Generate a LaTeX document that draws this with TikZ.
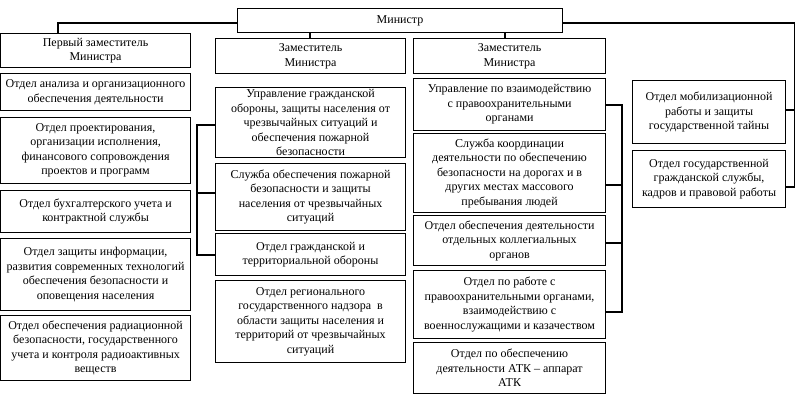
\documentclass[tikz,border=0pt]{standalone}
\usepackage{fontspec}
\setmainfont{Liberation Serif}
\begin{document}
\begin{tikzpicture}[x=1pt,y=-1pt,
 bx/.style={draw,line width=1.1pt,anchor=north west,align=center,inner sep=0pt,font=\fontsize{12}{14.5}\selectfont},
 ln/.style={line width=1.1pt}]
\useasboundingbox (0,0) rectangle (795,402);
\newcommand\bxx[6]{\node[bx,minimum width={#4-#2},minimum height={#5-#3}] (#1) at (#2,#3) {#6};}
\bxx{min}{237}{8}{562}{32}{Министр}
% col1
\bxx{a0}{0}{33}{190}{67}{Первый заместитель\\Министра}
\bxx{a1}{0}{73}{190}{110}{Отдел анализа и организационного\\обеспечения деятельности}
\bxx{a2}{0}{117}{190}{183}{Отдел проектирования,\\организации исполнения,\\финансового сопровождения\\проектов и программ}
\bxx{a3}{0}{190}{190}{232}{Отдел бухгалтерского учета и\\контрактной службы}
\bxx{a4}{0}{238}{190}{310}{Отдел защиты информации,\\развития современных технологий\\обеспечения безопасности и\\оповещения населения}
\bxx{a5}{0}{315}{190}{380}{Отдел обеспечения радиационной\\безопасности, государственного\\учета и контроля радиоактивных\\веществ}
% col2
\bxx{b0}{215}{38}{405}{73}{Заместитель\\Министра}
\bxx{b1}{215}{87}{405}{157}{Управление гражданской\\обороны, защиты населения от\\чрезвычайных ситуаций и\\обеспечения пожарной\\безопасности}
\bxx{b2}{215}{163}{405}{230}{Служба обеспечения пожарной\\безопасности и защиты\\населения от чрезвычайных\\ситуаций}
\bxx{b3}{215}{233}{405}{275}{Отдел гражданской и\\территориальной обороны}
\bxx{b4}{215}{280}{405}{362}{Отдел регионального\\государственного надзора\ \ в\\области защиты населения и\\территорий от чрезвычайных\\ситуаций}
% col3
\bxx{c0}{413}{38}{605}{73}{Заместитель\\Министра}
\bxx{c1}{413}{78}{605}{130}{Управление по взаимодействию\\с правоохранительными\\органами}
\bxx{c2}{413}{133}{605}{212}{Служба координации\\деятельности по обеспечению\\безопасности на дорогах и в\\других местах массового\\пребывания людей}
\bxx{c3}{413}{215}{605}{265}{Отдел обеспечения деятельности\\отдельных коллегиальных\\органов}
\bxx{c4}{413}{270}{605}{338}{Отдел по работе с\\правоохранительными органами,\\взаимодействию с\\военнослужащими и казачеством}
\bxx{c5}{413}{342}{605}{393}{Отдел по обеспечению\\деятельности АТК – аппарат\\АТК}
% col4
\bxx{d1}{632}{80}{785}{143}{Отдел мобилизационной\\работы и защиты\\государственной тайны}
\bxx{d2}{632}{150}{785}{207}{Отдел государственной\\гражданской службы,\\кадров и правовой работы}
% connectors
\coordinate (r0) at (795,23);
\coordinate (r1) at (795,187);
\draw[ln] (min.west |- 0,23) -| (a0.north -| 58,0);
\draw[ln] (min.east |- 0,23) -- (r0) -- (r1);
\draw[ln] (d1.east |- 0,110) -- (795,110);
\draw[ln] (d2.east |- 0,187) -- (r1);
\draw[ln] (min.south -| 505,0) -- (c0.north -| 505,0);
\draw[ln] (min.south -| 310,0) -- (b0.north -| 310,0);
\draw[ln] (b1.west |- 0,125) -- (197,125) -- (197,255) -- (b3.west |- 0,255);
\draw[ln] (b2.west |- 0,193) -- (197,193);
\draw[ln] (c1.east |- 0,105) -- (622,105) -- (622,312) -- (c4.east |- 0,312);
\draw[ln] (c2.east |- 0,185) -- (622,185);
\draw[ln] (c3.east |- 0,243) -- (622,243);
\end{tikzpicture}
\end{document}
